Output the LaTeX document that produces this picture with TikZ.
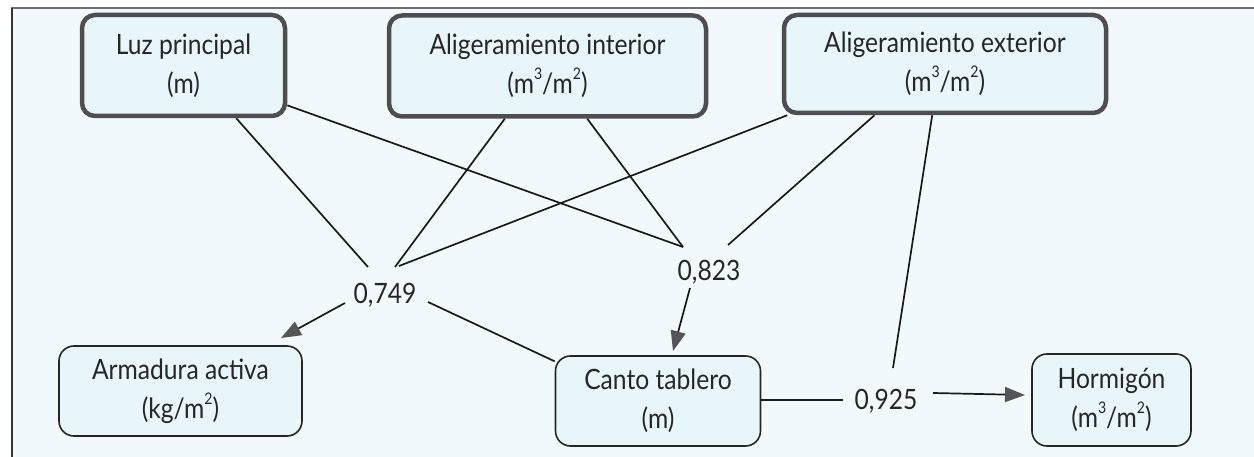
\documentclass[tikz,border=0pt]{standalone}
\usepackage{fontspec}
\setmainfont{Lato}[FakeStretch=0.88]
\usetikzlibrary{arrows.meta,calc}
\definecolor{bgc}{RGB}{241,249,251}
\definecolor{boxc}{RGB}{232,246,250}
\definecolor{bordc}{RGB}{78,78,78}
\definecolor{tipc}{RGB}{85,85,85}
\definecolor{framec}{RGB}{110,110,110}
\newcommand{\supx}[1]{\raisebox{0.5em}{\fontsize{16}{16}\selectfont #1}}
\begin{document}
\begin{tikzpicture}[x=1pt,y=-1pt,
  topbox/.style={draw=bordc, line width=4.5pt, rounded corners=13pt, fill=boxc,
    align=center, inner sep=0pt, font=\fontsize{28}{39}\selectfont, text=black!85},
  botbox/.style={draw=black!85, line width=1.6pt, rounded corners=15pt, fill=boxc,
    align=center, inner sep=0pt, font=\fontsize{28}{39}\selectfont, text=black!85},
  lab/.style={font=\fontsize{28}{30}\selectfont, inner sep=0pt, text=black!85},
  conn/.style={line width=1.7pt, draw=black!90},
  arr/.style={conn, -{Triangle[length=20pt,width=15pt,color=tipc]}}]
\useasboundingbox (0,0) rectangle (1254,457);
\fill[white] (0,0) rectangle (1254,457);
\fill[bgc] (12,8) rectangle (1254,457);
\draw[framec, line width=2.5pt] (11,8) -- (1254,8);
\draw[black!80, line width=1.8pt] (12,8) -- (12,457);

% top boxes
\node[topbox, minimum width=203pt, minimum height=101pt] (luz) at (183.5,65.5) {Luz principal\\(m)};
\node[topbox, minimum width=317pt, minimum height=101pt] (int) at (547.5,66) {Aligeramiento interior\\(m\supx{3}/m\supx{2})};
\node[topbox, minimum width=322pt, minimum height=98pt] (ext) at (945,64) {Aligeramiento exterior\\(m\supx{3}/m\supx{2})};

% bottom boxes
\node[botbox, minimum width=243pt, minimum height=90pt] (arm) at (180.5,391) {Armadura activa\\(kg/m\supx{2})};
\node[botbox, minimum width=205pt, minimum height=90pt] (canto) at (658,401) {Canto tablero\\(m)};
\node[botbox, minimum width=159pt, minimum height=92pt] (hor) at (1111.5,400) {Hormigón\\(m\supx{3}/m\supx{2})};

% coefficient labels
\node[lab] (l749) at (385,295) {0,749};
\node[lab] (l823) at (709,272) {0,823};
\node[lab] (l925) at (886,401) {0,925};

% free ends near the labels
\coordinate (e1) at (368,267);
\coordinate (e3) at (395,267);
\coordinate (e5) at (399,266);
\coordinate (e2) at (683,247);
\coordinate (e6) at (728,245);
\coordinate (e7) at (893,368);
\coordinate (s749a) at (345,303);
\coordinate (t749a) at (281,338);
\coordinate (s749b) at (428,302);
\coordinate (s823) at (690,288);
\coordinate (t823) at (673,351);
\coordinate (c925a) at (843,400);
\coordinate (s925) at (933,393);
\coordinate (t925) at (1025,395);

% connectors from top boxes
\draw[conn] (luz.-45) -- (e1);
\draw[conn] (luz.-21) -- (e2);
\draw[conn] (int.-129) -- (e3);
\draw[conn] (int.-53) -- (e2);
\draw[conn] (ext.-162) -- (e5);
\draw[conn] (ext.-144) -- (e6);
\draw[conn] (ext.-104) -- (e7);

% connectors to bottom boxes
\draw[arr] (s749a) -- (t749a);
\draw[conn] (s749b) -- (canto.159);
\draw[arr] (s823) -- (t823);
\draw[conn] (canto.east |- c925a) -- (c925a);
\draw[arr] (s925) -- (t925);
\end{tikzpicture}
\end{document}
